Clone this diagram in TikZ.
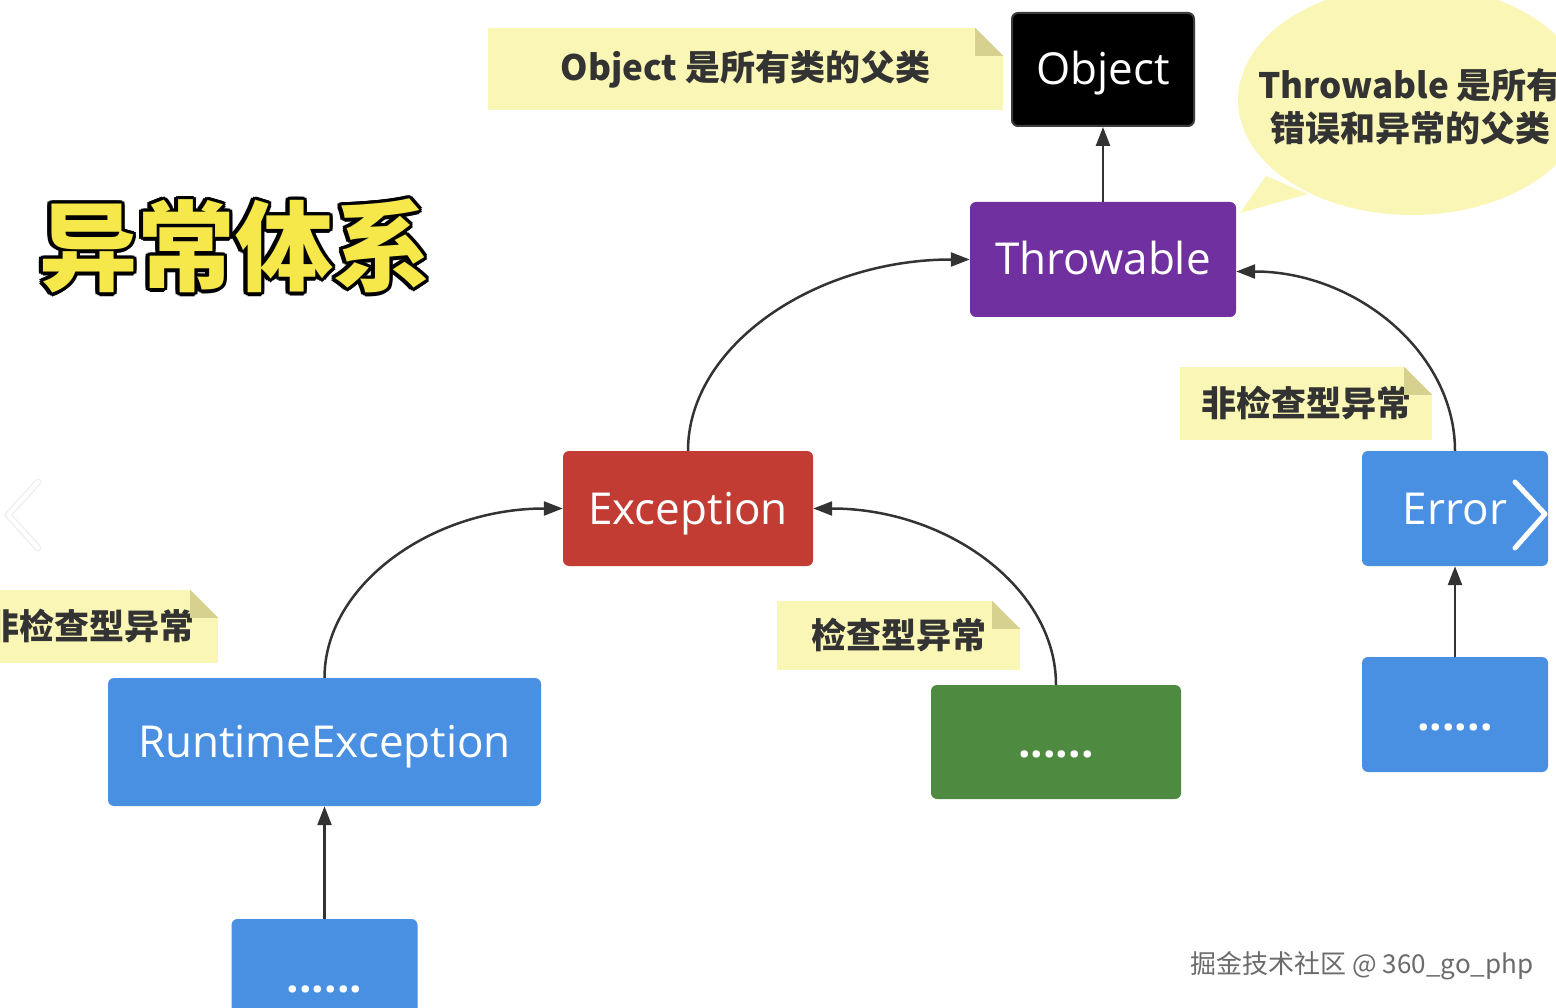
\documentclass[tikz,border=0pt]{standalone}
\usepackage{fontspec}
\setmainfont{Noto Sans CJK SC}
\newfontfamily\boxfont{Open Sans}
\usetikzlibrary{arrows.meta, calc}
\definecolor{NoteYellow}{HTML}{FAF6B6}
\definecolor{NoteFold}{HTML}{D6D18E}
\definecolor{InkGrey}{HTML}{333333}
\definecolor{ObjBlack}{HTML}{000000}
\definecolor{ObjEdge}{HTML}{3C3C3C}
\definecolor{ThrPurple}{HTML}{7030A0}
\definecolor{ExcRed}{HTML}{C23C33}
\definecolor{ErrBlue}{HTML}{4A90E2}
\definecolor{ChkGreen}{HTML}{4E8B40}
\definecolor{TitleYellow}{HTML}{F6E84A}
\definecolor{MarkGrey}{HTML}{6B6B6B}
\tikzset{
    classbox/.style={
        rounded corners=6pt,
        fill=#1,
        text=white,
        font=\boxfont\fontsize{44}{52}\selectfont,
        text height=31pt,
        text depth=0pt,
        inner sep=0pt
    },
    classbox/.default=ErrBlue,
    note/.style={
        fill=NoteYellow,
        text=InkGrey,
        font=\bfseries\fontsize{35}{42}\selectfont,
        inner sep=0pt
    },
    link/.style={
        -{Triangle[length=19pt,width=14pt]},
        line width=2.5pt,
        InkGrey
    },
    titletext/.style={
        font=\bfseries\fontsize{98}{104}\selectfont,
        inner sep=0pt
    }
}
% dog-ear on the top right corner of a note
\newcommand{\notefold}[1]{%
    \fill[white] (#1.north east) -- ++(-28,0) -- ++(28,28) -- cycle;
    \fill[NoteFold] ([xshift=-28pt]#1.north east) -- ++(28,28) -- ++(-28,0) -- cycle;
}

\begin{document}
\begin{tikzpicture}[x=1pt, y=-1pt]
        \useasboundingbox[fill=white] (0,0) rectangle (1556,1008);
        \clip (0,0) rectangle (1556,1008);

        % Title
        \coordinate (ttlpos) at (235,246);
        \foreach \a in {0,30,...,330}
            \node[titletext, text=black] (ttl\a) at ($(ttlpos)+(\a:3.5)$) {异常体系};
        \node[titletext, text=TitleYellow] (ttl) at (ttlpos) {异常体系};

        % Notes
        \node[note, minimum width=515pt, minimum height=82pt] (objnote) at (745.5,69) {Object 是所有类的父类};
        \notefold{objnote}
        \node[note, minimum width=252pt, minimum height=73pt] (errnote) at (1306,403.5) {非检查型异常};
        \notefold{errnote}
        \node[note, minimum width=256pt, minimum height=73pt] (rtenote) at (90,626.5) {非检查型异常};
        \notefold{rtenote}
        \node[note, minimum width=243pt, minimum height=69pt] (chknote) at (898.5,635.5) {检查型异常};
        \notefold{chknote}

        % Speech bubble
        \fill[NoteYellow] (1412,100) ellipse [x radius=174pt, y radius=115pt];
        \fill[NoteYellow] (1266,176) -- (1240,213) -- (1308,194) -- cycle;
        \node[text=InkGrey, font=\bfseries\fontsize{35}{43}\selectfont, align=center] (bubtxt) at (1410,107)
            {Throwable 是所有\\错误和异常的父类};

        % Classes
        \node[classbox=ObjBlack, draw=ObjEdge, line width=2pt, minimum width=182pt, minimum height=113pt] (obj) at (1103,69.5) {Object};
        \node[classbox=ThrPurple, minimum width=266pt, minimum height=115pt] (thr) at (1103,259.5) {Throwable};
        \node[classbox=ExcRed, minimum width=250pt, minimum height=115pt] (exc) at (688,508.5) {Exception};
        \node[classbox, minimum width=186pt, minimum height=115pt] (err) at (1455,508.5) {Error};
        \node[classbox, minimum width=433pt, minimum height=128pt] (rte) at (324.5,742) {RuntimeException};
        \node[classbox=ChkGreen, minimum width=250pt, minimum height=114pt] (chk) at (1056,742) {\textbf{......}};
        \node[classbox, minimum width=186pt, minimum height=115pt] (errdots) at (1455,714.5) {\textbf{......}};
        \node[classbox, minimum width=186pt, minimum height=115pt] (rtedots) at (324.5,976.5) {\textbf{......}};

        % Arrows
        \draw[link] (thr.north) -- (obj.south);
        \draw[link] (exc.north) .. controls +(0,-105) and +(-155,0) .. (thr.west);
        \draw[link] (err.north) .. controls +(0,-98) and +(120,0) .. ([yshift=-12pt]thr.east);
        \draw[link] (rte.north) .. controls +(0,-93) and +(-131,0) .. (exc.west);
        \draw[link] (chk.north) .. controls +(0,-97) and +(134,0) .. (exc.east);
        \draw[link] (errdots.north) -- (err.south);
        \draw[link] (rtedots.north) -- (rte.south);

        % Viewer arrows
        \draw[gray!12, line width=7pt, line cap=round, line join=round] (38,482) -- (8,515) -- (38,548);
        \draw[white, line width=4pt, line cap=round, line join=round] (38,482) -- (8,515) -- (38,548);
        \draw[white, line width=5pt, line cap=round, line join=round] (1515,482) -- (1545,514) -- (1515,548);

        % Watermark
        \node[text=MarkGrey, font=\fontsize{26}{30}\selectfont] (mark) at (1362,966) {掘金技术社区 @ 360\_go\_php};
    \end{tikzpicture}
\end{document}
